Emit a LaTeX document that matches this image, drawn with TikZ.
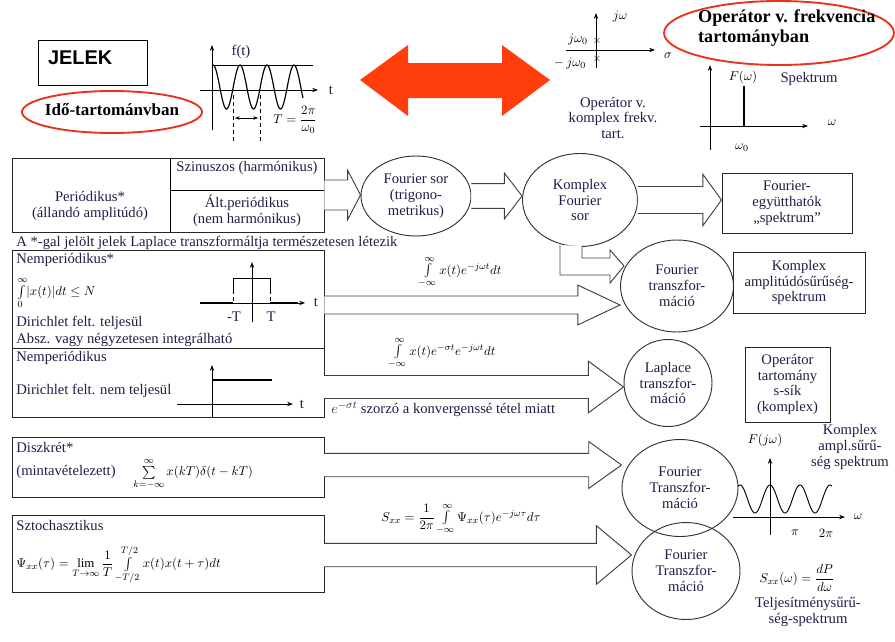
\documentclass[tikz,border=0pt]{standalone}
\usepackage{fontspec}
\setmainfont{Liberation Serif}
\newfontfamily\headsans{Liberation Sans}
\usepackage{amsmath}
\usetikzlibrary{calc,fit,arrows.meta,shapes.geometric}
\definecolor{inkblue}{RGB}{40,25,70}
\definecolor{ovalred}{RGB}{232,52,30}
\definecolor{arrowred}{RGB}{255,62,12}

\tikzset{
  txt/.style={inner sep=1pt, text=inkblue, font=\fontsize{12.5}{13.5}\selectfont, align=center},
  ltxt/.style={txt, anchor=west, align=left},
  mth/.style={inner sep=1pt, font=\fontsize{11}{12}\selectfont},
  box/.style={draw=black!85, line width=0.8pt, inner sep=0pt},
  oval/.style 2 args={draw=black!80, line width=0.8pt, ellipse, inner sep=0pt,
      minimum width=#1*0.03cm, minimum height=#2*0.03cm, text=inkblue,
      font=\fontsize{12.5}{13.5}\selectfont, align=center},
  redoval/.style={draw=ovalred, line width=1.6pt},
  barrow/.style={draw=black!75, line width=0.8pt, fill=white, line join=miter},
  axis/.style={-{Stealth[length=5pt]}, line width=0.7pt},
}

% block arrow: from, to, shaft half width, head half width, head length
\newcommand\barrow[5]{%
  \draw[barrow] let \p1=(#1), \p2=(#2) in
    (\x1,\y1+#3) -- (\x2-#5,\y1+#3) -- (\x2-#5,\y1+#4) -- (\x2,\y1)
    -- (\x2-#5,\y1-#4) -- (\x2-#5,\y1-#3) -- (\x1,\y1-#3);}

\begin{document}
\begin{tikzpicture}[x=0.03cm, y=-0.03cm]
    \useasboundingbox (0,0) rectangle (895,641);

    % headings
    \node[box, draw=black, fit={(38,40) (147,85)}] (jelek) {};
    \node[anchor=west, font=\headsans\bfseries\fontsize{17}{18}\selectfont] at (44,58) {JELEK};
    \draw[redoval] (112,112) ellipse [x radius=90, y radius=21];
    \node[font=\bfseries\fontsize{14.5}{15}\selectfont] (ido) at (112,110) {Idő-tartománvban};
    \draw[redoval] (779,33) ellipse [x radius=115, y radius=32];
    \node[anchor=west, align=left, font=\bfseries\fontsize{15.5}{17}\selectfont] (op) at (694,28)
        {Operátor v. frekvencia\\tartományban};

    % red double arrow
    \fill[arrowred] (360,80) -- (408,45) -- (408,63) -- (502,63) -- (502,45) -- (550,80)
        -- (502,116) -- (502,98) -- (408,98) -- (408,116) -- cycle;

    % time signal
    \draw[axis] (212,130) -- (212,45);
    \draw[axis] (200,90) -- (318,90);
    \node[txt] at (331,90) {t};
    \node[txt] at (241,52) {f(t)};
    \draw[line width=0.4pt] (212,65) -- (313,65);
    \draw[line width=1pt, domain=212:303, samples=120, smooth] plot (\x,{87-22*cos(13.333*(\x-240))});
    \draw[dashed] (233,95) -- (233,142);
    \draw[dashed] (260,95) -- (260,142);
    \draw[{Stealth[length=4pt]}-{Stealth[length=4pt]}] (235,118) -- (258,118);
    \node[mth, anchor=west] at (272,120) {$T=\dfrac{2\pi}{\omega_0}$};

    % s-plane
    \draw[axis] (596,68) -- (596,13);
    \draw[axis] (566,50) -- (655,50);
    \node[mth] at (620,17) {$j\omega$};
    \node[mth] at (668,56) {$\sigma$};
    \node[mth] at (578,40) {$j\omega_0$};
    \node[mth] at (570,64) {$-\,j\omega_0$};
    \node[font=\small] at (597,41) {$\times$};
    \node[font=\small] at (597,59) {$\times$};
    \node[txt] (opk) at (613,118) {Operátor v.\\komplex frekv.\\tart.};

    % line spectrum
    \draw[axis] (710,150) -- (710,65);
    \draw[axis] (700,126) -- (808,126);
    \draw[line width=1pt] (744,126) -- (744,86);
    \node[mth] at (743,77) {$F(\omega)$};
    \node[txt] at (809,79) {Spektrum};
    \node[mth] at (832,123) {$\omega$};
    \node[mth] at (742,148) {$\omega_0$};

    % periodic signals
    \node[box, fit={(12,158) (324,232)}] (per) {};
    \draw[line width=0.8pt] (170,158) -- (170,232);
    \draw[line width=0.8pt] (170,190) -- (324,190);
    \node[txt] at (90,206) {Periódikus*\\(állandó amplitúdó)};
    \node[txt] at (247,168) {Szinuszos (harmónikus)};
    \node[txt] at (247,211) {Ált.periódikus\\(nem harmónikus)};
    \node[ltxt] at (15,243) {A *-gal jelölt jelek Laplace transzformáltja természetesen létezik};

    \node[oval={110}{80}] (fsor) at (416,196) {Fourier sor\\(trigono-\\metrikus)};
    \node[oval={115}{93}] (kfs) at (580,200) {Komplex\\Fourier\\sor};
    \node[box, fit={(722,173) (852,233)}] (egy) {};
    \node[txt] at (egy) {Fourier-\\együtthatók\\„spektrum”};

    \barrow{per.east}{fsor.west}{12.8pt}{21pt}{11pt}
    \barrow{fsor.east}{kfs.west}{10.6pt}{19.5pt}{15pt}
    \barrow{kfs.east}{egy.west}{11.5pt}{22pt}{16pt}
    \draw[barrow] (560,245) -- (560,275) -- (610,275) -- (610,283) -- (624,266)
        -- (610,250) -- (610,258) -- (582,258) -- (582,246);

    % non-periodic, Dirichlet
    \node[box, fit={(12,250) (324,348)}] (nper) {};
    \node[ltxt] at (15,260) {Nemperiódikus*};
    \node[mth, anchor=west] at (15,293) {$\int\limits_{0}^{\infty}\lvert x(t)\rvert dt\le N$};
    \node[ltxt] at (15,323) {Dirichlet felt. teljesül};
    \node[ltxt] at (15,340) {Absz. vagy négyzetesen integrálható};
    \draw[axis] (200,303) -- (305,303);
    \draw[axis] (252,322) -- (252,262);
    \node[txt] at (316,302) {t};
    \draw[line width=1.2pt] (200,303) -- (233,303) (270,303) -- (298,303);
    \draw[line width=0.8pt] (233,290) -- (233,278) -- (270,278) -- (270,290);
    \draw[dashed] (233,290) -- (233,303) (270,290) -- (270,303);
    \node[txt] at (234,317) {-T};
    \node[txt] at (271,317) {T};

    \node[oval={113}{92}] (ft1) at (677,286) {Fourier\\transzfor-\\máció};
    \node[box, fit={(733,252) (865,313)}] (kas) {};
    \node[txt] at (kas) {Komplex\\amplitúdósűrűség-\\spektrum};
    \coordinate (a1) at ($(nper.east)+(0,6)$);
    \barrow{a1}{ft1.west}{7.7pt}{17pt}{36pt}
    \node[mth, anchor=west] at (418,272) {$\int\limits_{-\infty}^{\infty}x(t)e^{-j\omega t}dt$};

    % non-periodic, not Dirichlet
    \node[box, fit={(12,348) (324,417)}] (nper2) {};
    \node[ltxt] at (15,358) {Nemperiódikus};
    \node[ltxt] at (15,391) {Dirichlet felt. nem teljesül};
    \draw[axis] (177,404) -- (293,404);
    \draw[axis] (212,417) -- (212,365);
    \node[txt] at (302,404) {t};
    \draw[line width=1pt] (212,380) -- (272,380);

    \node[oval={88}{87}] (lap) at (668,383) {Laplace\\transzfor-\\máció};
    \node[box, fit={(745,347) (830,422)}] (opt) {};
    \node[txt] at (opt) {Operátor\\tartomány\\s-sík\\(komplex)};
    \coordinate (a2) at (324,387);
    \barrow{a2}{lap.west}{9.8pt}{22pt}{30pt}
    \node[mth, anchor=west] at (388,353) {$\int\limits_{-\infty}^{\infty}x(t)e^{-\sigma t}e^{-j\omega t}dt$};
    \node[ltxt] at (330,409) {$e^{-\sigma t}$ szorzó a konvergenssé tétel miatt};

    % discrete
    \node[box, fit={(12,437) (324,497)}] (disz) {};
    \node[ltxt] at (15,447) {Diszkrét*};
    \node[ltxt] at (15,472) {(mintavételezett)};
    \node[mth, anchor=west] at (132,474) {$\sum\limits_{k=-\infty}^{\infty}x(kT)\delta(t-kT)$};
    \node[oval={116}{97}] (ft3) at (680,488) {Fourier\\Transzfor-\\máció};
    \coordinate (a3) at (324,465);
    \barrow{a3}{ft3.west}{10pt}{20pt}{28pt}

    % continuous amplitude density spectrum
    \draw[axis] (733,517) -- (845,517);
    \draw[axis] (770,535) -- (770,458);
    \draw[line width=0.8pt, domain=738:832, samples=120, smooth] plot (\x,{499-14*cos(12*(\x-770))});
    \node[mth] at (858,517) {$\omega$};
    \node[mth] at (765,440) {$F(j\omega)$};
    \node[mth] at (795,533) {$\pi$};
    \node[mth] at (826,533) {$2\pi$};
    \node[txt] at (850,447) {Komplex\\ampl.sűrű-\\ség spektrum};

    % stochastic
    \node[box, fit={(12,515) (324,592)}] (szt) {};
    \node[ltxt] at (15,525) {Sztochasztikus};
    \node[mth, anchor=west] at (15,565) {$\Psi_{xx}(\tau)=\lim\limits_{T\to\infty}\dfrac{1}{T}\int\limits_{-T/2}^{T/2}x(t)x(t+\tau)dt$};
    \node[oval={108}{97}] (ft4) at (686,571) {Fourier\\Transzfor-\\máció};
    \coordinate (a4) at (324,555);
    \barrow{a4}{ft4.west}{10pt}{25pt}{30pt}
    \node[mth, anchor=west] at (380,519) {$S_{xx}=\dfrac{1}{2\pi}\int\limits_{-\infty}^{\infty}\Psi_{xx}(\tau)e^{-j\omega\tau}d\tau$};
    \node[mth] at (797,578) {$S_{xx}(\omega)=\dfrac{dP}{d\omega}$};
    \node[txt] at (808,612) {Teljesítménysűrű-\\ség-spektrum};
\end{tikzpicture}
\end{document}
